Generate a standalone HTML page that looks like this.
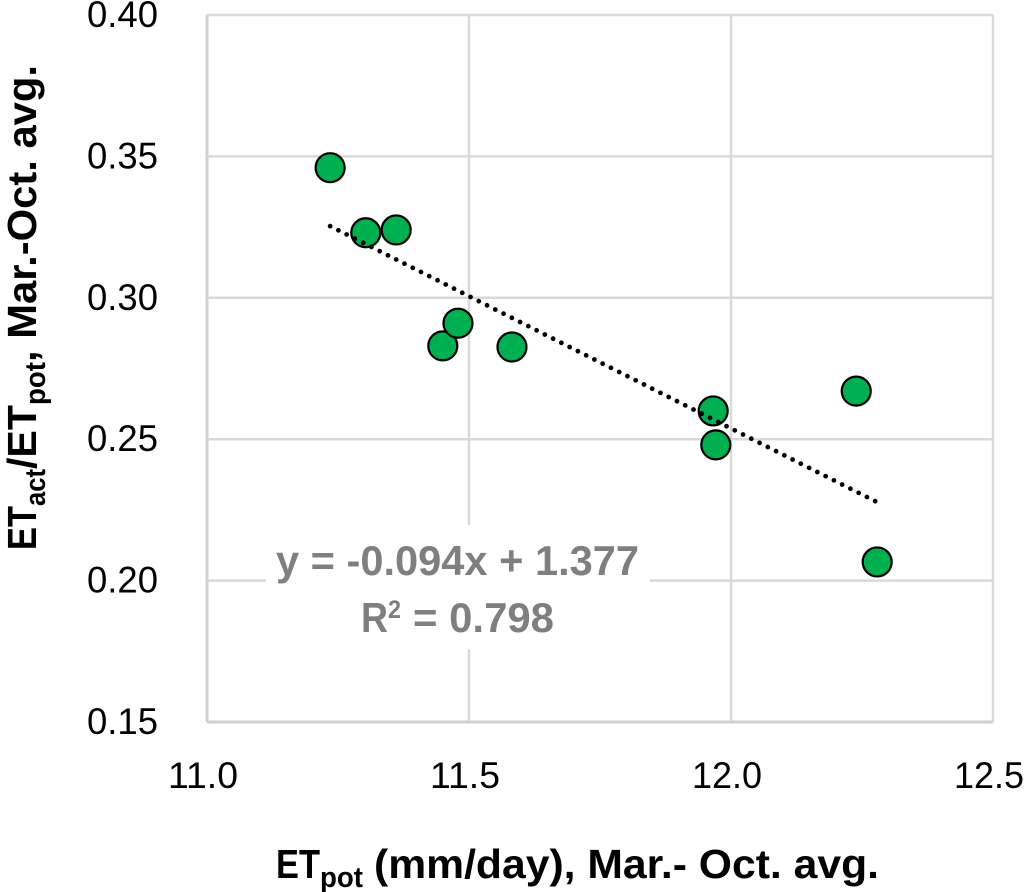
<!DOCTYPE html>
<html>
<head>
<meta charset="utf-8">
<title>ETact/ETpot vs ETpot scatter</title>
<style>
html,body{margin:0;padding:0;background:#fff;}
svg{display:block;}
text{font-family:"Liberation Sans",sans-serif;}
</style>
</head>
<body>
<svg id="chart" width="1024" height="892" viewBox="0 0 1024 892" xmlns="http://www.w3.org/2000/svg">
<rect x="0" y="0" width="1024" height="892" fill="#ffffff"/>
<g id="grid"></g>
<g id="xticks"></g>
<g id="yticks"></g>
<g id="points"></g>
<g id="trend"></g>
<rect x="266" y="525" width="384" height="124" fill="#ffffff"/>
<g fill="#7f7f7f" font-weight="bold" font-size="42">
<text x="276" y="575" textLength="363" lengthAdjust="spacingAndGlyphs">y = -0.094x + 1.377</text>
<text x="361" y="632" textLength="27" lengthAdjust="spacingAndGlyphs">R</text>
<text x="388" y="618" font-size="25" textLength="13" lengthAdjust="spacingAndGlyphs">2</text>
<text x="413" y="632" textLength="141" lengthAdjust="spacingAndGlyphs">= 0.798</text>
</g>
<g fill="#000" font-weight="bold">
<text x="276" y="878" font-size="41" textLength="44" lengthAdjust="spacingAndGlyphs">ET</text>
<text x="320" y="887" font-size="29" textLength="43" lengthAdjust="spacingAndGlyphs">pot</text>
<text x="374" y="878" font-size="41" textLength="505" lengthAdjust="spacingAndGlyphs">(mm/day), Mar.- Oct. avg.</text>
</g>
<g fill="#000" font-weight="bold" transform="translate(36,0) rotate(-90)">
<text x="-550" y="0" font-size="41" textLength="44" lengthAdjust="spacingAndGlyphs">ET</text>
<text x="-506" y="9" font-size="29" textLength="37" lengthAdjust="spacingAndGlyphs">act</text>
<text x="-469" y="0" font-size="41" textLength="64" lengthAdjust="spacingAndGlyphs">/ET</text>
<text x="-405" y="9" font-size="29" textLength="43" lengthAdjust="spacingAndGlyphs">pot</text>
<text x="-362" y="0" font-size="41" textLength="297" lengthAdjust="spacingAndGlyphs">, Mar.-Oct. avg.</text>
</g>
</svg>
<script>
var xTicks = [11.0, 11.5, 12.0, 12.5];
var yTicks = [0.15, 0.20, 0.25, 0.30, 0.35, 0.40];
var xTickLabels = ["11.0", "11.5", "12.0", "12.5"];
var yTickLabels = ["0.15", "0.20", "0.25", "0.30", "0.35", "0.40"];
var etPot = [11.235, 11.303, 11.361, 11.450, 11.479, 11.582, 11.966, 11.971, 12.239, 12.279];
var etRatio = [0.346, 0.323, 0.324, 0.283, 0.291, 0.2826, 0.260, 0.248, 0.267, 0.2066];

var NS = 'http://www.w3.org/2000/svg';
function xScale(v) { return 207 + (v - 11.0) / 1.5 * 786; }
function yScale(v) { return 722 - (v - 0.15) / 0.25 * 707; }
function make(tag, attrs, parent) {
  var el = document.createElementNS(NS, tag);
  for (var k in attrs) { el.setAttribute(k, attrs[k]); }
  parent.appendChild(el);
  return el;
}

var grid = document.getElementById('grid');
xTicks.forEach(function (t, i) {
  var strong = i === 0;
  var line = make('line', {x1: xScale(t), x2: xScale(t), y1: yScale(0.40), y2: yScale(0.15), stroke: strong ? '#cfcfcf' : '#d9d9d9', 'stroke-width': strong ? 3 : 2.5}, grid);
  
  
});
yTicks.forEach(function (t, i) {
  var strong = i === 0;
  var line = make('line', {x1: 207, x2: 993, y1: yScale(t), y2: yScale(t), stroke: strong ? '#cfcfcf' : '#d9d9d9', 'stroke-width': strong ? 3 : 2.5}, grid);
  
  
});

var xg = document.getElementById('xticks');
xTicks.forEach(function (t, i) {
  var label = make('text', {x: xScale(t) - 39, y: 788, 'font-size': 37, fill: '#000', textLength: 70, lengthAdjust: 'spacingAndGlyphs'}, xg);
  
  
  label.textContent = xTickLabels[i];
});
var yg = document.getElementById('yticks');
yTicks.forEach(function (t, i) {
  var label = make('text', {x: 87, y: yScale(t) + 12, 'font-size': 37, fill: '#000', textLength: 71, lengthAdjust: 'spacingAndGlyphs'}, yg);
  
  
  label.textContent = yTickLabels[i];
});

var pg = document.getElementById('points');
etPot.forEach(function (x, i) {
  var c = make('circle', {cx: xScale(x), cy: yScale(etRatio[i]), r: 14.5, fill: '#00b050', stroke: '#000', 'stroke-width': 2.2}, pg);
  
  
});

// Least-squares trendline computed from the series
var n = etPot.length, sx = 0, sy = 0, sxx = 0, sxy = 0;
etPot.forEach(function (x, i) { sx += x; sy += etRatio[i]; sxx += x * x; sxy += x * etRatio[i]; });
var slope = (n * sxy - sx * sy) / (n * sxx - sx * sx);
var intercept = (sy - slope * sx) / n;
var xMin = Math.min.apply(null, etPot), xMax = Math.max.apply(null, etPot);
var trend = make('line', {
  x1: xScale(xMin), y1: yScale(slope * xMin + intercept),
  x2: xScale(xMax), y2: yScale(slope * xMax + intercept),
  stroke: '#000', 'stroke-width': 4.8, 'stroke-linecap': 'round', 'stroke-dasharray': '0 9.25'
}, document.getElementById('trend'));


</script>
</body>
</html>
